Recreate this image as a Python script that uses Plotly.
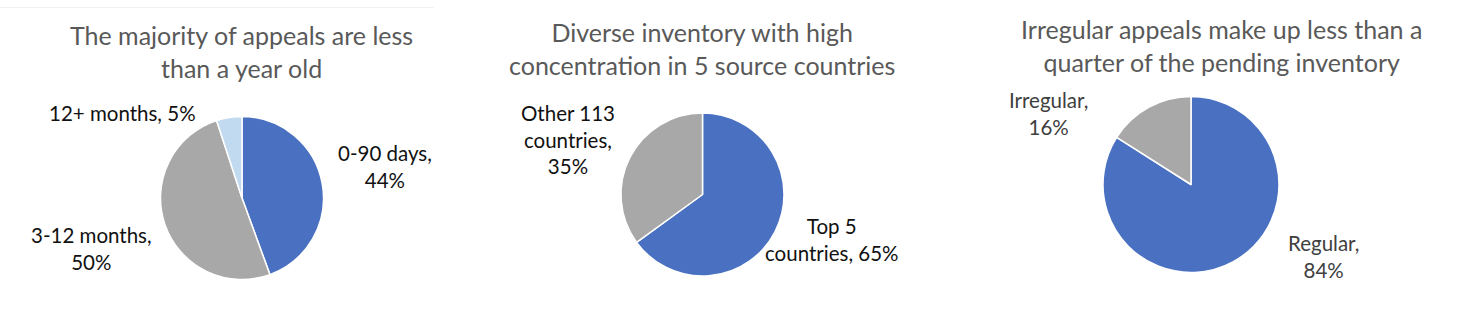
import plotly.graph_objects as go

W, H = 1482, 311

# ---- data ----
age_labels = ["0-90 days", "3-12 months", "12+ months"]
age_values = [44, 50, 5]
age_title = "The majority of appeals are less<br>than a year old"

country_labels = ["Top 5 countries", "Other 113 countries"]
country_values = [65, 35]
country_title = "Diverse inventory with high<br>concentration in 5 source countries"

type_labels = ["Regular", "Irregular"]
type_values = [84, 16]
type_title = "Irregular appeals make up less than a<br>quarter of the pending inventory"

# label display texts (line breaks as in the picture)
age_texts = ["0-90 days,<br>44%", "3-12 months,<br>50%", "12+ months, 5%"]
country_texts = ["Top 5<br>countries, 65%", "Other 113<br>countries,<br>35%"]
type_texts = ["Regular,<br>84%", "Irregular,<br>16%"]

# ---- layout / style (pixel positions) ----
pies = [
    dict(labels=age_labels, values=age_values, texts=age_texts, title=age_title,
         cx=242, cy=198, r=81.5,
         colors=["#4A71C1", "#A8A8A8", "#C2DAF0"],
         label_pos=[(385, 166.5), (91.5, 248.5), (122.5, 113)],
         title_pos=(241.5, 51.5), text_color="#111111"),
    dict(labels=country_labels, values=country_values, texts=country_texts, title=country_title,
         cx=702.5, cy=194.5, r=81.5,
         colors=["#4A71C1", "#A8A8A8"],
         label_pos=[(832, 239), (568, 139)],
         title_pos=(702, 49), text_color="#111111"),
    dict(labels=type_labels, values=type_values, texts=type_texts, title=type_title,
         cx=1191, cy=184.5, r=88,
         colors=["#4A71C1", "#A8A8A8"],
         label_pos=[(1323, 256), (1048.5, 113.5)],
         title_pos=(1221, 46), text_color="#404040"),
]

FONT = "Lato"

def px_x(x):
    return x / W

def px_y(y):
    return 1 - y / H

fig = go.Figure()
annotations = []
for p in pies:
    fig.add_trace(go.Pie(
        labels=p["labels"], values=p["values"],
        sort=False, direction="clockwise", rotation=0,
        textinfo="none", hoverinfo="label+percent",
        marker=dict(colors=p["colors"], line=dict(color="white", width=1.5)),
        domain=dict(x=[px_x(p["cx"] - p["r"]), px_x(p["cx"] + p["r"])],
                    y=[px_y(p["cy"] + p["r"]), px_y(p["cy"] - p["r"])]),
        showlegend=False,
    ))
    tx, ty = p["title_pos"]
    annotations.append(dict(
        x=px_x(tx), y=px_y(ty), xref="paper", yref="paper",
        xanchor="center", yanchor="middle", showarrow=False,
        text=p["title"], font=dict(family=FONT, size=25, color="#595959"),
    ))
    for t, (lx, ly) in zip(p["texts"], p["label_pos"]):
        annotations.append(dict(
            x=px_x(lx), y=px_y(ly), xref="paper", yref="paper",
            xanchor="center", yanchor="middle", showarrow=False,
            text=t, font=dict(family=FONT, size=20.5, color=p["text_color"]),
        ))

shapes = [dict(type="line", xref="paper", yref="paper",
               x0=0, x1=px_x(434), y0=px_y(7.5), y1=px_y(7.5),
               line=dict(color="#F0F0F0", width=1))]

fig.update_layout(
    width=W, height=H, autosize=False,
    margin=dict(l=0, r=0, t=0, b=0),
    paper_bgcolor="white", plot_bgcolor="white",
    annotations=annotations, shapes=shapes,
)

fig.write_html("out.html")
